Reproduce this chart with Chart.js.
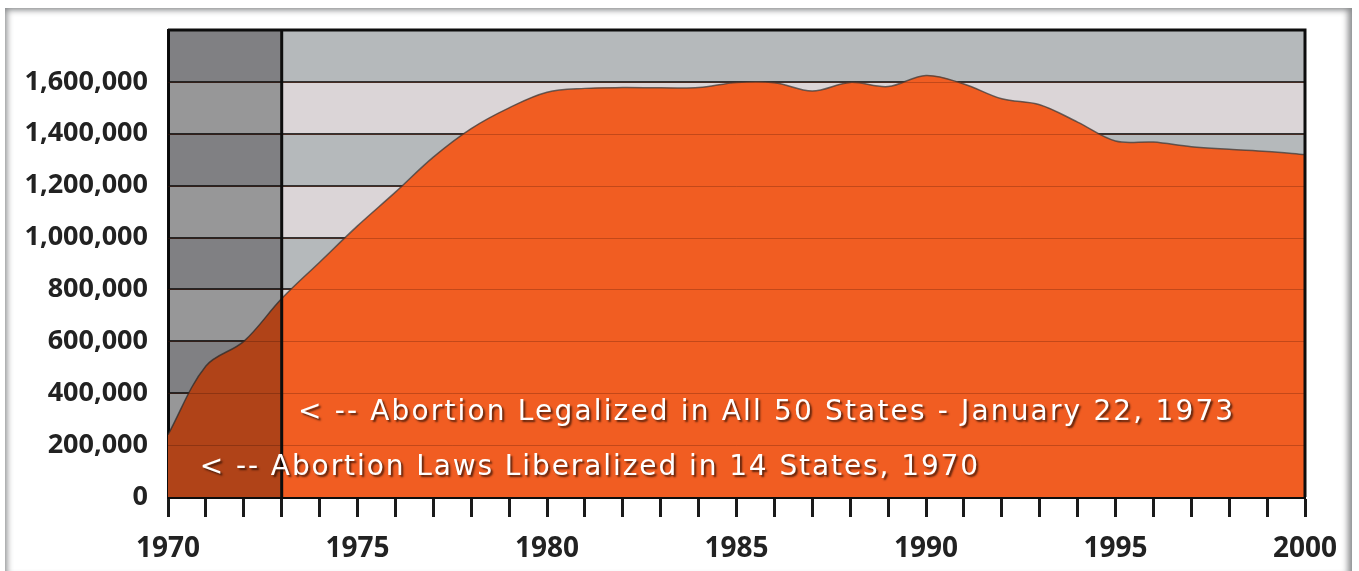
<!DOCTYPE html>
<html>
<head>
<meta charset="utf-8">
<script src="https://cdn.jsdelivr.net/npm/chart.js@4/dist/chart.umd.min.js"></script>
<style>
  body { margin: 0; background: #fff; }
  #wrap { position: relative; width: 1359px; height: 571px; overflow: hidden; }
  #frame {
    position: absolute; left: 5px; top: 8px; width: 1347px; height: 565px;
    box-shadow: inset 5px 5px 6px -3px #8a8c8e, inset -7px 0 6px -3px #8a8c8e;
  }
  #chart { position: absolute; left: 0; top: 0; }
</style>
</head>
<body>
<div id="wrap">
  <div id="frame"></div>
  <canvas id="chart" width="1359" height="571"></canvas>
</div>
<script>
// years on the x axis
const years = [1970, 1971, 1972, 1973, 1974, 1975, 1976, 1977, 1978, 1979,
  1980, 1981, 1982, 1983, 1984, 1985, 1986, 1987, 1988, 1989,
  1990, 1991, 1992, 1993, 1994, 1995, 1996, 1997, 1998, 1999, 2000];

// abortions per year
const abortions = [240000, 505000, 600000, 765000, 905000, 1045000, 1175000, 1310000, 1420000, 1500000,
  1560000, 1575000, 1578000, 1577000, 1578000, 1598000, 1597000, 1565000, 1598000, 1582000,
  1625000, 1592000, 1535000, 1512000, 1445000, 1372000, 1368000, 1350000, 1340000, 1332000, 1320000];

// notes written on the chart
const notes = [
  { text: '< -- Abortion Legalized in All 50 States - January 22, 1973', from: 1973.43, to: 1998.1, value: 324000 },
  { text: '< -- Abortion Laws Liberalized in 14 States, 1970', from: 1970.84, to: 1991.37, value: 112000 }
];

const legalYear = 1973;

const points = years.map((y, i) => ({ x: y, y: abortions[i] }));

// alternating background bands under the grid
const bandsPlugin = {
  id: 'bands',
  beforeDraw(chart) {
    const { ctx, chartArea: a, scales: { x, y } } = chart;
    const xl = x.getPixelForValue(legalYear);
    ctx.save();
    for (let v = 0, k = 0; v < y.max; v += 200000, k++) {
      const top = y.getPixelForValue(v + 200000);
      const bottom = y.getPixelForValue(v);
      ctx.fillStyle = k % 2 === 0 ? '#b5b9bb' : '#dbd5d7';
      ctx.fillRect(xl, top, a.right - xl, bottom - top);
      ctx.fillStyle = k % 2 === 0 ? '#b0b0b4' : '#cfcfd1';
      ctx.fillRect(a.left, top, xl - a.left, bottom - top);
    }
    ctx.restore();
  },
  afterDatasetsDraw(chart) {
    const { ctx, chartArea: a, scales: { x, y } } = chart;
    ctx.save();
    // faint grid lines across the orange area
    ctx.strokeStyle = 'rgba(110,35,10,0.35)';
    ctx.lineWidth = 1;
    for (let v = 200000; v < y.max; v += 200000) {
      const py = Math.round(y.getPixelForValue(v)) + 0.5;
      ctx.beginPath();
      ctx.moveTo(a.left, py);
      ctx.lineTo(a.right, py);
      ctx.stroke();
    }
    // darkened years before nationwide legalisation
    const xl = x.getPixelForValue(legalYear);
    ctx.fillStyle = 'rgba(0,0,0,0.27)';
    ctx.fillRect(a.left, a.top, xl - a.left, a.bottom - a.top);
    // 1973 line
    ctx.strokeStyle = '#0d0d0d';
    ctx.lineWidth = 3;
    ctx.beginPath();
    ctx.moveTo(xl, a.top);
    ctx.lineTo(xl, a.bottom);
    ctx.stroke();
    // top and right frame
    ctx.beginPath();
    ctx.moveTo(a.left, a.top);
    ctx.lineTo(a.right, a.top);
    ctx.lineTo(a.right, a.bottom);
    ctx.stroke();
    ctx.restore();
  },
  afterDraw(chart) {
    const { ctx, scales: { x, y } } = chart;
    ctx.save();
    ctx.font = '28px "DejaVu Sans"';
    ctx.textBaseline = 'middle';
    ctx.fillStyle = '#ffffff';
    ctx.shadowColor = 'rgba(40,15,5,0.75)';
    ctx.shadowOffsetX = 2;
    ctx.shadowOffsetY = 2;
    ctx.shadowBlur = 2;
    notes.forEach((n) => {
      const x0 = x.getPixelForValue(n.from);
      const x1 = x.getPixelForValue(n.to);
      ctx.letterSpacing = '0px';
      const w = ctx.measureText(n.text).width;
      const sp = (x1 - x0 - w) / (n.text.length - 1);
      ctx.letterSpacing = sp.toFixed(2) + 'px';
      ctx.fillText(n.text, x0, y.getPixelForValue(n.value));
    });
    ctx.restore();
  }
};

new Chart(document.getElementById('chart'), {
  type: 'line',
  data: {
    datasets: [
      {
        data: points,
        fill: 'origin',
        backgroundColor: '#f15d22',
        borderColor: 'rgba(60,60,60,0.75)',
        borderWidth: 1.5,
        pointRadius: 0,
        tension: 0.35,
      },
    ],
  },
  options: {
    responsive: false,
    animation: false,
    layout: { padding: { top: 30, right: 54, left: 0, bottom: 0 } },
    plugins: { legend: { display: false }, tooltip: { enabled: false } },
    scales: {
      x: {
        type: 'linear',
        min: 1970,
        max: 2000,
        afterFit: (s) => { s.height = 74; },
        grid: {
          drawOnChartArea: false,
          drawTicks: true,
          tickLength: 20,
          tickWidth: 3,
          tickColor: '#1a1a1a',
        },
        border: { display: true, width: 3, color: '#0d0d0d' },
        ticks: {
          stepSize: 1,
          autoSkip: false,
          maxRotation: 0,
          padding: 15,
          color: '#222',
          font: { family: 'Open Sans', size: 28, weight: 'bold' },
          callback: (v) => (v % 5 === 0 ? String(v) : ''),
        },
      },
      y: {
        min: 0,
        max: 1800000,
        afterFit: (s) => { s.width = 168; s.paddingTop = 0; s.paddingBottom = 0; },
        afterBuildTicks: (s) => { s.ticks = s.ticks.filter((t) => t.value < 1800000); },
        grid: { drawTicks: false, color: '#333', lineWidth: 2 },
        border: { display: true, width: 3, color: '#0d0d0d' },
        ticks: {
          stepSize: 200000,
          padding: 20,
          color: '#222',
          font: { family: 'Open Sans', size: 27, weight: 'bold' },
          callback: (v) => v.toLocaleString('en-US'),
        },
      },
    },
  },
  plugins: [bandsPlugin],
});
</script>
</body>
</html>
